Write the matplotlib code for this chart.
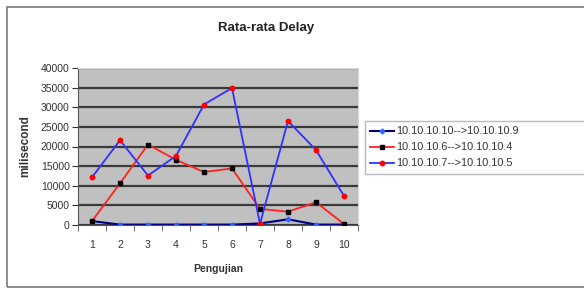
import matplotlib
matplotlib.use("Agg")
import matplotlib.pyplot as plt
from matplotlib.patches import Rectangle

plt.rcParams['font.family'] = ['Liberation Sans', 'DejaVu Sans']

# data
pengujian = [1, 2, 3, 4, 5, 6, 7, 8, 9, 10]
delay_10_9 = [1000, 100, 100, 100, 100, 100, 400, 1450, 100, 100]
delay_6_4 = [1000, 10600, 20500, 16600, 13500, 14400, 4100, 3400, 5800, 250]
delay_7_5 = [12150, 21600, 12600, 17600, 30700, 34900, 300, 26500, 19100, 7400]
labels = ["10.10.10.10-->10.10.10.9", "10.10.10.6-->10.10.10.4", "10.10.10.7-->10.10.10.5"]
yticks = [0, 5000, 10000, 15000, 20000, 25000, 30000, 35000, 40000]

W, H = 584, 289
fig = plt.figure(figsize=(W / 100, H / 100), dpi=100)

# outer chart border
fig.patches.append(Rectangle((7 / W, 1 - 287 / H), 700 / W, 280 / H, transform=fig.transFigure,
                             fill=False, edgecolor='#7a7a7a', linewidth=1.2))

ax = fig.add_axes([78 / W, 1 - 225 / H, 280 / W, 157 / H])
ax.set_facecolor('#c0c0c0')

ax.plot(pengujian, delay_10_9, color='#000080', linewidth=1.5, marker='D', markersize=2.5,
        markerfacecolor='#3366ff', markeredgecolor='#3366ff', label=labels[0], zorder=3)
ax.plot(pengujian, delay_6_4, color='#ff2020', linewidth=1.3, marker='s', markersize=3.5,
        markerfacecolor='black', markeredgecolor='black', label=labels[1], zorder=4)
ax.plot(pengujian, delay_7_5, color='#3030ff', linewidth=1.3, marker='o', markersize=3.2,
        markerfacecolor='#ff0000', markeredgecolor='#ff0000', label=labels[2], zorder=5)

ax.set_xlim(0.5, 10.5)
ax.set_ylim(0, 40000)
ax.set_yticks(yticks)
ax.set_yticklabels([str(v) for v in yticks])
ax.set_xticks(pengujian)
ax.set_xticks([x + 0.5 for x in range(0, 11)], minor=True)
ax.tick_params(axis='x', which='major', length=0, labelsize=7.5, pad=11, colors='#333333')
ax.tick_params(axis='x', which='minor', length=4, direction='out', color='#555555')
ax.tick_params(axis='y', length=4, direction='out', labelsize=7.5, pad=2, colors='#333333')
ax.grid(axis='y', color='#3a3a3a', linewidth=1.6)
ax.set_axisbelow(True)
for side in ['top', 'right']:
    ax.spines[side].set_color('#d8d8d8')
for side in ['left', 'bottom']:
    ax.spines[side].set_color('#555555')

ax.set_xlabel('Pengujian', fontsize=7.5, fontweight='bold', color='#333333', labelpad=10)
ax.set_ylabel('milisecond', fontsize=8.5, fontweight='bold', color='#333333', labelpad=7)

fig.text(266 / W, 1 - 28 / H, 'Rata-rata Delay', ha='center', va='center', fontsize=9.5,
         fontweight='bold', color='#222222')

# legend box runs off the right edge like in the reference
leg = ax.legend(loc='upper left', bbox_to_anchor=(365 / W, 1 - 177 / H, 222 / W, 56 / H),
                bbox_transform=fig.transFigure, mode='expand',
                fontsize=7.8, frameon=True, fancybox=False, edgecolor='#aaaaaa',
                handlelength=2.2, handletextpad=0.2, borderpad=0.5, labelspacing=0.55,
                borderaxespad=0)
for t in leg.get_texts():
    t.set_color('#333333')

fig.savefig('out.png', dpi=100)
